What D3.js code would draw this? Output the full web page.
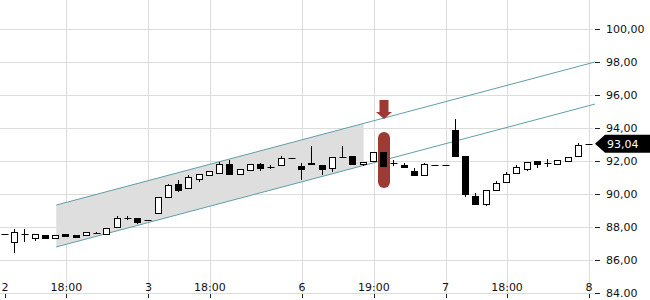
<!DOCTYPE html>
<html>
<head>
<meta charset="utf-8">
<script src="https://cdn.jsdelivr.net/npm/d3@7"></script>
<style>
  body { margin: 0; background: #fff; }
  svg { display: block; font-family: "DejaVu Sans", sans-serif; }
</style>
</head>
<body>
<svg id="chart" width="650" height="300"></svg>
<script>
// candle data (one entry per bar)
const opens  = [87.58,87.09,87.58,87.33,87.52,87.33,87.58,87.52,87.50,87.64,87.58,88.00,88.55,88.55,88.42,88.85,89.82,90.61,90.36,90.91,
                91.15,91.27,91.82,91.21,91.45,91.82,91.64,91.76,92.18,91.70,91.88,91.76,91.58,92.24,92.30,91.82,92.00,92.55,91.88,91.76,
                91.39,91.15,91.76,91.76,93.88,92.30,89.88,89.39,90.24,90.73,91.27,91.52,92.00,91.88,91.82,92.00,92.30,93.04];
const highs  = [87.58,87.88,87.88,87.58,87.52,87.52,87.58,87.52,87.70,87.72,87.94,88.67,88.67,88.55,88.42,89.82,90.61,90.85,91.15,91.21,
                91.39,91.94,92.06,91.52,91.82,91.88,91.76,92.30,92.18,91.88,92.91,91.76,92.24,92.91,92.30,91.94,92.55,92.55,92.06,91.88,
                91.58,91.88,91.76,91.76,94.55,92.30,90.06,90.24,90.79,91.33,91.76,91.94,92.00,92.12,92.06,92.24,93.09,93.04];
const lows   = [87.58,86.42,87.09,87.15,87.33,87.33,87.45,87.42,87.50,87.58,87.58,88.00,88.42,88.18,88.42,88.85,89.82,90.12,90.36,90.73,
                91.15,91.27,91.21,91.21,91.45,91.39,91.52,91.76,92.18,90.85,91.82,91.15,91.33,92.24,91.82,91.70,92.00,91.70,91.70,91.64,
                91.15,91.15,91.76,91.76,92.24,89.82,89.39,89.27,90.24,90.73,91.27,91.39,91.58,91.64,91.82,92.00,92.30,93.04];
const closes = [87.58,87.70,87.58,87.58,87.33,87.52,87.45,87.42,87.70,87.64,87.94,88.55,88.55,88.30,88.42,89.82,90.55,90.24,91.03,91.21,
                91.39,91.82,91.21,91.52,91.82,91.58,91.64,92.18,92.18,91.52,91.82,91.52,92.24,92.24,91.82,91.94,92.55,91.70,91.88,91.64,
                91.15,91.82,91.76,91.76,92.30,90.00,89.39,90.24,90.67,91.21,91.64,91.94,91.82,91.88,92.06,92.24,92.97,93.04];

// time axis labels (bar index -> label)
const xTickIdx    = [0, 6, 14, 20, 29, 36, 43, 49, 57];
const xTickLabels = ["2", "18:00", "3", "18:00", "6", "19:00", "7", "18:00", "8"];

// price axis
const yTicks      = [84, 86, 88, 90, 92, 94, 96, 98, 100];
const yTickLabels = ["84.00", "86,00", "88,00", "90,00", "92,00", "94,00", "96,00", "98,00", "100,00"];
const lastPrice   = 93.04;
const lastLabel   = "93,04";

// trend channel: [start bar, end bar], prices at both ends
const channelBars  = [5, 57.58];
const channelUpper = [89.33, 98.00];
const channelLower = [86.79, 95.45];
const shadeEndBar  = 35;
const signalBar    = 37;

const svg = d3.select("#chart");
const x = d3.scaleLinear().domain([0, 57]).range([5, 589]);
const y = d3.scaleLinear().domain([84, 100]).range([293, 29]);

const bars = opens.map((o, i) => ({i: i, o: o, h: highs[i], l: lows[i], c: closes[i]}));

// grid
const grid = svg.append("g");
grid.selectAll("line.h").data(yTicks).enter().append("line")
  .attr("x1", 0).attr("x2", 593)
  .attr("y1", d => Math.round(y(d)) + 0.5).attr("y2", d => Math.round(y(d)) + 0.5)
  .attr("stroke", "#dcdcdc");
grid.selectAll("line.v").data(xTickIdx.slice(1)).enter().append("line")
  .attr("x1", d => Math.round(x(d)) + 0.5).attr("x2", d => Math.round(x(d)) + 0.5)
  .attr("y1", 0).attr("y2", 293)
  .attr("stroke", "#dcdcdc");

// channel
const lineAt = (ends, b) => ends[0] + (ends[1] - ends[0]) * (b - channelBars[0]) / (channelBars[1] - channelBars[0]);
const shade = [
  [channelBars[0], lineAt(channelUpper, channelBars[0])],
  [shadeEndBar, lineAt(channelUpper, shadeEndBar)],
  [shadeEndBar, lineAt(channelLower, shadeEndBar)],
  [channelBars[0], lineAt(channelLower, channelBars[0])]
];
svg.append("polygon")
  .attr("points", shade.map(p => [x(p[0]), y(p[1])].join(",")).join(" "))
  .attr("fill", "#dedede");

[channelUpper, channelLower].forEach(ends => {
  svg.append("line")
    .attr("x1", x(channelBars[0])).attr("y1", y(ends[0]))
    .attr("x2", x(channelBars[1])).attr("y2", y(ends[1]))
    .attr("stroke", "#5f9fa8").attr("stroke-width", 1);
});

// signal marker
const sx = Math.round(x(signalBar));
const sTop = y(highs[signalBar]) - 20, sBot = y(lows[signalBar]) + 22;
svg.append("rect")
  .attr("x", sx - 6).attr("y", sTop).attr("width", 12).attr("height", sBot - sTop)
  .attr("rx", 6).attr("ry", 6).attr("fill", "#9c3a33");
const aTip = sTop - 13;
svg.append("path")
  .attr("d", `M${sx - 4.5},${aTip - 19}L${sx + 4.5},${aTip - 19}L${sx + 4.5},${aTip - 7}L${sx + 8},${aTip - 7}` +
             `L${sx},${aTip}L${sx - 8},${aTip - 7}L${sx - 4.5},${aTip - 7}Z`)
  .attr("fill", "#9c3a33");

// candles
const cg = svg.append("g");
const cxOf = d => Math.round(x(d.i));
const bodyTop = d => Math.round(y(Math.max(d.o, d.c)));
const bodyBot = d => Math.round(y(Math.min(d.o, d.c)));
cg.selectAll("line.wick").data(bars).enter().append("line")
  .attr("x1", d => cxOf(d) - 0.5).attr("x2", d => cxOf(d) - 0.5)
  .attr("y1", d => Math.round(y(d.h))).attr("y2", d => Math.round(y(d.l)))
  .attr("stroke", "#000");
cg.selectAll("rect.body").data(bars.filter(d => bodyBot(d) > bodyTop(d))).enter().append("rect")
  .attr("x", d => cxOf(d) - 3.5)
  .attr("y", d => bodyTop(d) + 0.5)
  .attr("width", 6)
  .attr("height", d => bodyBot(d) - bodyTop(d))
  .attr("fill", d => d.c < d.o ? "#000" : "#fff")
  .attr("stroke", "#000");
// flat bars: open == close
cg.selectAll("line.doji").data(bars.filter(d => bodyBot(d) <= bodyTop(d))).enter().append("line")
  .attr("x1", d => cxOf(d) - 3.5).attr("x2", d => cxOf(d) + 3.5)
  .attr("y1", d => bodyTop(d) + 0.5).attr("y2", d => bodyTop(d) + 0.5)
  .attr("stroke", "#000");

// x axis
const xa = svg.append("g");
xa.selectAll("line").data(xTickIdx).enter().append("line")
  .attr("x1", d => Math.round(x(d)) + 0.5).attr("x2", d => Math.round(x(d)) + 0.5)
  .attr("y1", 294).attr("y2", 298).attr("stroke", "#222");
xa.selectAll("text").data(xTickIdx).enter().append("text")
  .attr("x", d => x(d)).attr("y", 291)
  .attr("text-anchor", "middle").attr("font-size", 11).attr("fill", "#111")
  .text((d, k) => xTickLabels[k]);

// y axis
const ya = svg.append("g");
ya.selectAll("line").data(yTicks).enter().append("line")
  .attr("x1", 595).attr("x2", 600)
  .attr("y1", d => Math.round(y(d)) + 0.5).attr("y2", d => Math.round(y(d)) + 0.5)
  .attr("stroke", "#222");
ya.selectAll("text").data(yTicks).enter().append("text")
  .attr("x", 606).attr("y", d => y(d)).attr("dy", "0.36em")
  .attr("font-size", 11).attr("fill", "#111")
  .text((d, k) => yTickLabels[k]);

// last price tag
const ly = y(lastPrice);
svg.append("path")
  .attr("d", `M595,${ly}L605,${ly - 9}L650,${ly - 9}L650,${ly + 9}L605,${ly + 9}Z`)
  .attr("fill", "#000");
svg.append("text")
  .attr("x", 607).attr("y", ly).attr("dy", "0.36em")
  .attr("font-size", 11).attr("fill", "#fff")
  .text(lastLabel);
</script>
</body>
</html>
